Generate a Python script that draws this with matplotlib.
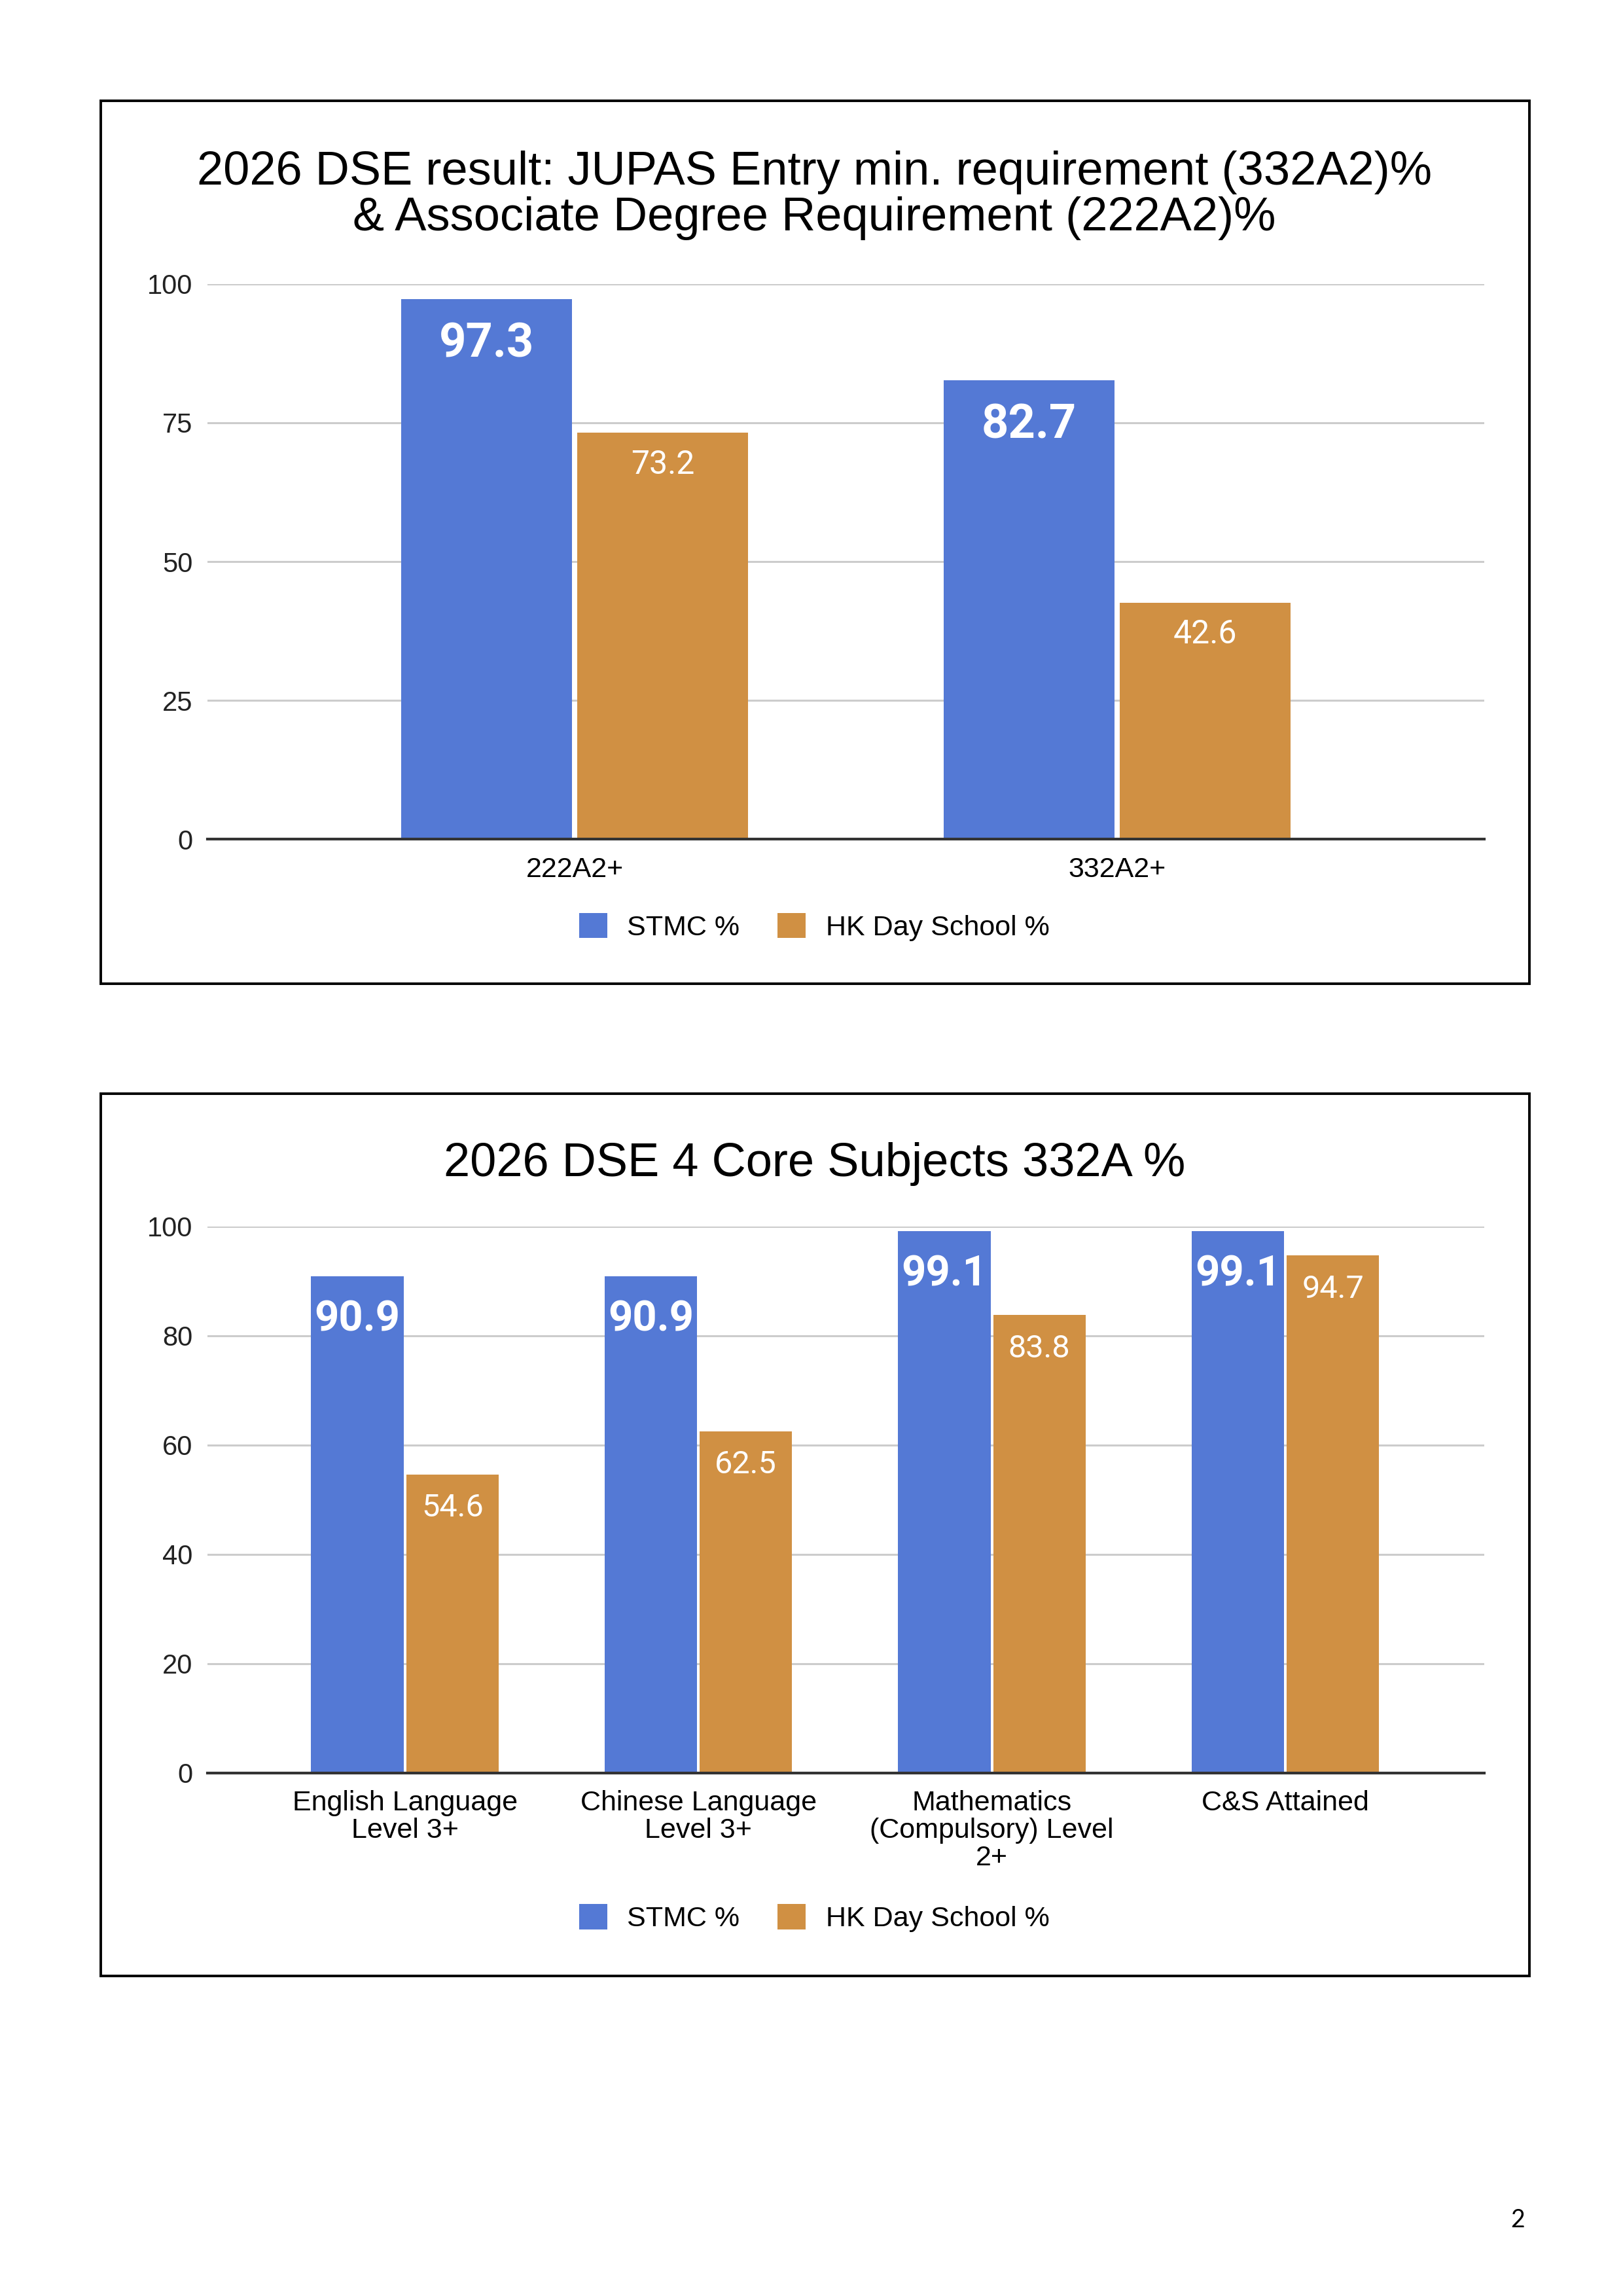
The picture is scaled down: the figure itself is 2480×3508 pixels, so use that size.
import matplotlib
matplotlib.use('Agg')
import matplotlib.pyplot as plt
import numpy as np
from matplotlib.patches import Rectangle

# data
series_names = ['STMC %', 'HK Day School %']
top_title = '2026 DSE result: JUPAS Entry min. requirement (332A2)%\n& Associate Degree Requirement (222A2)%'
top_cats = ['222A2+', '332A2+']
top_stmc = [97.3, 82.7]
top_hk = [73.2, 42.6]
top_ticks = [0, 25, 50, 75, 100]

bot_title = '2026 DSE 4 Core Subjects 332A %'
bot_cats = ['English Language\nLevel 3+', 'Chinese Language\nLevel 3+',
            'Mathematics\n(Compulsory) Level\n2+', 'C&S Attained']
bot_stmc = [90.9, 90.9, 99.1, 99.1]
bot_hk = [54.6, 62.5, 83.8, 94.7]
bot_ticks = [0, 20, 40, 60, 80, 100]

BLUE = '#5479d5'
ORANGE = '#d09043'
TXT = 'Liberation Sans'
LBL = 'Roboto'

fig = plt.figure(figsize=(24.8, 35.08), dpi=100)

# page boxes
for y0, y1 in [(0.5716, 0.9561), (0.1394, 0.5237)]:
    fig.patches.append(Rectangle((0.0621, y0), 0.9425 - 0.0621, y1 - y0,
                                 transform=fig.transFigure, fill=False,
                                 edgecolor='black', linewidth=2.8, zorder=0))


def draw(ax, cats, stmc, hk, ticks, big_fs, small_fs, big_off, small_off, xlim):
    x = np.arange(len(cats))
    w = 0.315
    b1 = ax.bar(x - 0.162, stmc, w, color=BLUE, zorder=3)
    b2 = ax.bar(x + 0.162, hk, w, color=ORANGE, zorder=3)
    for r, v in zip(b1, stmc):
        ax.annotate('%.1f' % v, (r.get_x() + r.get_width() / 2, v),
                    xytext=(0, -big_off), textcoords='offset points',
                    ha='center', va='center', color='white', fontsize=big_fs,
                    fontweight='bold', family=LBL, zorder=4)
    for r, v in zip(b2, hk):
        ax.annotate('%.1f' % v, (r.get_x() + r.get_width() / 2, v),
                    xytext=(0, -small_off), textcoords='offset points',
                    ha='center', va='center', color='white', fontsize=small_fs,
                    family=LBL, zorder=4)
    ax.set_xlim(*xlim)
    ax.set_ylim(0, 100)
    ax.set_yticks(ticks)
    ax.set_xticks(x)
    ax.set_xticklabels(cats, fontsize=31, family=TXT, linespacing=1.06)
    for t in ax.get_yticklabels():
        t.set_fontsize(30)
        t.set_family(TXT)
        t.set_color('#222222')
    ax.tick_params(axis='both', length=0)
    ax.tick_params(axis='x', pad=19)
    ax.tick_params(axis='y', pad=16)
    for s in ['top', 'right', 'left']:
        ax.spines[s].set_visible(False)
    ax.spines['bottom'].set_color('#333333')
    ax.spines['bottom'].set_linewidth(3)
    ax.spines['bottom'].set_zorder(5)
    ax.yaxis.grid(True, color='#cccccc', linewidth=2.2, zorder=0)
    ax.set_axisbelow(True)
    return b1, b2


def legend(handles, y):
    fig.legend(handles, series_names, loc='center', bbox_to_anchor=(0.5017, y),
               ncol=2, frameon=False, prop={'family': TXT, 'size': 31},
               handlelength=1.0, handleheight=1.0, handletextpad=0.7,
               columnspacing=1.35)


ax1 = fig.add_axes([0.1278, 0.6345, 0.7867, 0.2418])
h1 = draw(ax1, top_cats, top_stmc, top_hk, top_ticks, 52, 36, 50, 35, (-0.677, 1.677))
fig.text(0.5017, 0.9150, top_title, ha='center', va='center', fontsize=52,
         family=TXT, linespacing=1.06)
legend(h1, 0.5963)

ax2 = fig.add_axes([0.1278, 0.2278, 0.7867, 0.2380])
h2 = draw(ax2, bot_cats, bot_stmc, bot_hk, bot_ticks, 47, 35, 47.5, 37, (-0.673, 3.678))
fig.text(0.5017, 0.4931, bot_title, ha='center', va='center', fontsize=52,
         family=TXT)
legend(h2, 0.1645)

fig.text(0.935, 0.0331, '2', ha='center', va='center', fontsize=27, family='Lato')

fig.savefig('out.png', dpi=100)
